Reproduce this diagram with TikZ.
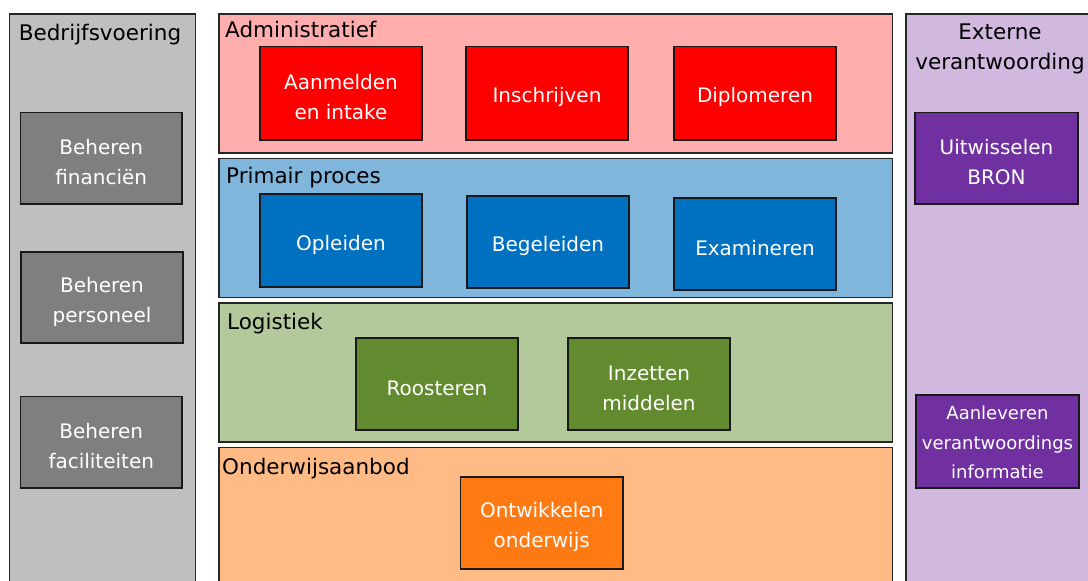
\documentclass[tikz,border=0pt]{standalone}
\usepackage{fontspec}
\setmainfont{DejaVu Sans}
\definecolor{greyL}{HTML}{BFBFBF}
\definecolor{greyD}{HTML}{7F7F7F}
\definecolor{redL}{HTML}{FFADAD}
\definecolor{redD}{HTML}{FF0000}
\definecolor{blueL}{HTML}{80B5DC}
\definecolor{blueD}{HTML}{0070C0}
\definecolor{greenL}{HTML}{B4C99B}
\definecolor{greenD}{HTML}{628B2F}
\definecolor{orangeL}{HTML}{FFBA85}
\definecolor{orangeD}{HTML}{FF7A12}
\definecolor{purpleL}{HTML}{D1B8DE}
\definecolor{purpleD}{HTML}{7030A0}
\newcommand\mybox[8][]{%
  \node[#7, minimum width={(#5-#3)*1pt}, minimum height={(#6-#4)*1pt}] (#2) at ({(#3+#5)/2},{(#4+#6)/2}) {};
  \node[proctext,#1] (#2-t) at ([yshift=-4pt]#2.center) {#8};}
\begin{document}
\begin{tikzpicture}[x=1pt,y=-1pt,
  lane/.style={draw=black!85, line width=1.4pt, inner sep=0pt, outer sep=0pt},
  proc/.style={draw=black!90, line width=1.8pt, inner sep=0pt, outer sep=0pt},
  proctext/.style={inner sep=0pt, text=white, align=center, font=\fontsize{20}{30}\selectfont},
  title/.style={inner sep=0pt, font=\fontsize{21.5}{30}\selectfont}]
\useasboundingbox (0,0) rectangle (1088,581);
\fill[white] (0,0) rectangle (1088,581);
% lanes
\node[lane, fill=greyL, minimum width=186pt, minimum height=586pt] (bedr) at (102.5,307) {};
\node[lane, fill=redL, minimum width=673.5pt, minimum height=139pt] (adm) at (555.75,83.5) {};
\node[lane, fill=blueL, minimum width=673.5pt, minimum height=139pt] (prim) at (555.75,228) {};
\node[lane, fill=greenL, minimum width=673.5pt, minimum height=139pt] (logi) at (555.75,372.5) {};
\node[lane, fill=orangeL, minimum width=673.5pt, minimum height=152.5pt] (ond) at (555.75,523.75) {};
\node[lane, fill=purpleL, minimum width=194pt, minimum height=586pt] (ext) at (1003,307) {};
% titles
\node[title, anchor=base] (tbedr) at (100,40) {Bedrijfsvoering};
\node[title, anchor=base west] (tadm) at (225,37) {Administratief};
\node[title, anchor=base west] (tprim) at (226,183) {Primair proces};
\node[title, anchor=base west] (tlogi) at (227,329) {Logistiek};
\node[title, anchor=base west] (tond) at (222,474) {Onderwijsaanbod};
\node[title, anchor=base] (text1) at (1000,39) {Externe};
\node[title, anchor=base] (text2) at (1000,69) {verantwoording};
% left column
\mybox{fin}{20.5}{112.5}{182}{204}{proc, fill=greyD}{Beheren\\financiën}
\mybox{pers}{21}{252}{183}{343}{proc, fill=greyD}{Beheren\\personeel}
\mybox{fac}{20.5}{396.5}{182}{488}{proc, fill=greyD}{Beheren\\faciliteiten}
% administratief
\mybox{aanm}{260}{46.5}{422}{140}{proc, fill=redD}{Aanmelden\\en intake}
\mybox{insch}{466}{46.5}{628}{140}{proc, fill=redD}{Inschrijven}
\mybox{dipl}{674}{46.5}{836}{140}{proc, fill=redD}{Diplomeren}
% primair proces
\mybox{opl}{260}{194}{422}{287}{proc, fill=blueD}{Opleiden}
\mybox{beg}{467}{196}{629}{288}{proc, fill=blueD}{Begeleiden}
\mybox{exa}{674}{198}{836}{290}{proc, fill=blueD}{Examineren}
% logistiek
\mybox{roo}{356}{338}{518}{430}{proc, fill=greenD}{Roosteren}
\mybox{inz}{568}{338}{730}{430}{proc, fill=greenD}{Inzetten\\middelen}
% onderwijsaanbod
\mybox{ontw}{460.5}{477}{623}{569}{proc, fill=orangeD}{Ontwikkelen\\onderwijs}
% externe verantwoording
\mybox{bron}{915}{112.5}{1078}{204}{proc, fill=purpleD}{Uitwisselen\\BRON}
\mybox[font=\fontsize{18}{29.5}\selectfont, yshift=3pt]{aanl}{916}{395}{1079}{488}{proc, fill=purpleD}{Aanleveren\\verantwoordings\\informatie}
\end{tikzpicture}
\end{document}
